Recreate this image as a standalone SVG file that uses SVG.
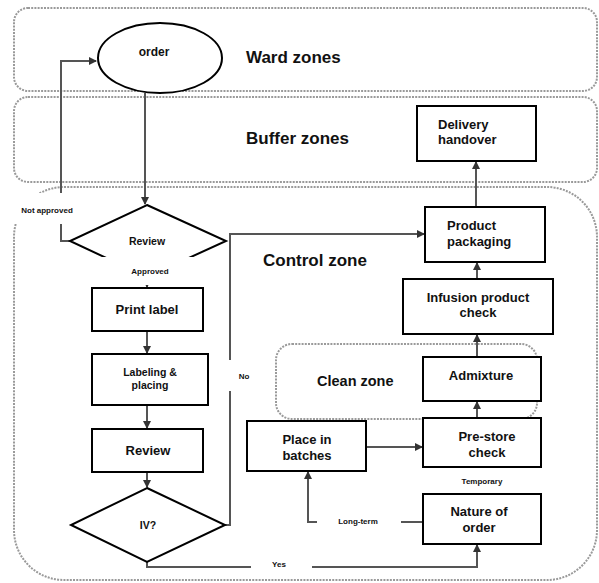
<svg xmlns="http://www.w3.org/2000/svg" width="599" height="583" viewBox="0 0 599 583">
<style>
.zone{fill:none;stroke:#9a9a9a;stroke-width:2;stroke-dasharray:2 1.2}
.box{fill:#fff;stroke:#000;stroke-width:2}
.conn{fill:none;stroke:#555;stroke-width:2}
.t{font-family:"Liberation Sans",Arial,sans-serif;font-weight:bold;fill:#111;text-anchor:middle}
.zt{font-size:17px;text-anchor:start}
.bt{font-size:13px}
.st{font-size:8px}
.bg{fill:#fff}
</style>
<defs>
<marker id="ah" markerWidth="8" markerHeight="8" refX="7" refY="4" orient="auto" markerUnits="userSpaceOnUse">
<path d="M0,0 L8,4 L0,8 z" fill="#333"/>
</marker>
</defs>
<g id="zones">
<rect class="zone" x="14" y="8" width="583" height="83" rx="14"/>
<rect class="zone" x="14" y="97" width="583" height="85" rx="14"/>
<rect class="zone" x="14" y="187" width="583" height="393" rx="50"/>
<rect class="zone" x="276" y="344" width="261" height="75" rx="16"/>
<text class="t zt" x="246" y="63">Ward zones</text>
<text class="t zt" x="246" y="144">Buffer zones</text>
<text class="t zt" x="263" y="266">Control zone</text>
<text class="t" style="font-size:14.5px;text-anchor:start" x="317" y="386">Clean zone</text>
</g>
<g id="connectors">
<path class="conn" d="M145,93 V204" marker-end="url(#ah)"/>
<path class="conn" d="M70,241 H61 V61 H96" marker-end="url(#ah)"/>
<path class="conn" d="M147,277 V287" marker-end="url(#ah)"/>
<path class="conn" d="M147,331 V353" marker-end="url(#ah)"/>
<path class="conn" d="M147,405 V428" marker-end="url(#ah)"/>
<path class="conn" d="M147,472 V487" marker-end="url(#ah)"/>
<path class="conn" d="M225,525 H230 V234 H424" marker-end="url(#ah)"/>
<path class="conn" d="M147,562 V567 H477 V545" marker-end="url(#ah)"/>
<path class="conn" d="M423,522 H308 V472" marker-end="url(#ah)"/>
<path class="conn" d="M366,447 H422" marker-end="url(#ah)"/>
<path class="conn" d="M477,418 V402" marker-end="url(#ah)"/>
<path class="conn" d="M477,357 V335" marker-end="url(#ah)"/>
<path class="conn" d="M477,279 V263" marker-end="url(#ah)"/>
<path class="conn" d="M476,207 V162" marker-end="url(#ah)"/>
</g>
<g id="order">
<ellipse class="box" cx="160" cy="58" rx="62" ry="35"/>
<text class="t" style="font-size:12px" x="154" y="56">order</text>
</g>
<g id="review-decision">
<path class="box" d="M147,205 L226,241 L147,277 L70,241 z"/>
<text class="t" style="font-size:10.5px" x="147" y="245">Review</text>
</g>
<g id="print-label">
<rect class="box" x="92" y="288" width="111" height="43"/>
<text class="t bt" x="147" y="314">Print label</text>
</g>
<g id="labeling">
<rect class="box" x="92" y="354" width="116" height="51"/>
<text class="t" style="font-size:10.5px" x="150" y="376">Labeling &amp;</text>
<text class="t" style="font-size:10.5px" x="150" y="389">placing</text>
</g>
<g id="review-box">
<rect class="box" x="92" y="429" width="111" height="43"/>
<text class="t bt" x="148" y="455">Review</text>
</g>
<g id="iv">
<path class="box" d="M147,488 L225,525 L147,562 L71,525 z"/>
<text class="t" style="font-size:10.5px" x="148" y="529">IV?</text>
</g>
<g id="delivery">
<rect class="box" x="417" y="106" width="119" height="55"/>
<text class="t bt" style="text-anchor:start" x="438" y="129">Delivery</text>
<text class="t bt" style="text-anchor:start" x="438" y="144">handover</text>
</g>
<g id="packaging">
<rect class="box" x="425" y="207" width="120" height="55"/>
<text class="t bt" style="text-anchor:start" x="447" y="230">Product</text>
<text class="t bt" style="text-anchor:start" x="447" y="246">packaging</text>
</g>
<g id="infusion">
<rect class="box" x="403" y="279" width="150" height="55"/>
<text class="t bt" x="478" y="302">Infusion product</text>
<text class="t bt" x="478" y="317">check</text>
</g>
<g id="admixture">
<rect class="box" x="423" y="357" width="118" height="44"/>
<text class="t bt" x="481" y="380">Admixture</text>
</g>
<g id="prestore">
<rect class="box" x="423" y="418" width="118" height="49"/>
<text class="t bt" x="487" y="441">Pre-store</text>
<text class="t bt" x="487" y="457">check</text>
</g>
<g id="batches">
<rect class="box" x="247" y="421" width="119" height="50"/>
<text class="t bt" x="307" y="444">Place in</text>
<text class="t bt" x="307" y="460">batches</text>
</g>
<g id="nature">
<rect class="box" x="423" y="494" width="118" height="50"/>
<text class="t bt" x="479" y="516">Nature of</text>
<text class="t bt" x="479" y="532">order</text>
</g>
<g id="labels">
<rect class="bg" x="12" y="193" width="68" height="31"/>
<text class="t st" x="47" y="213">Not approved</text>
<rect class="bg" x="100" y="257" width="100" height="28"/>
<text class="t st" x="150" y="274">Approved</text>
<rect class="bg" x="227" y="360" width="36" height="31"/>
<text class="t st" x="244" y="379">No</text>
<rect class="bg" x="251" y="555" width="61" height="22"/>
<text class="t st" x="279" y="567">Yes</text>
<rect class="bg" x="317" y="503" width="84" height="30"/>
<text class="t st" x="358" y="524">Long-term</text>
<text class="t st" x="482" y="484">Temporary</text>
</g>
</svg>
